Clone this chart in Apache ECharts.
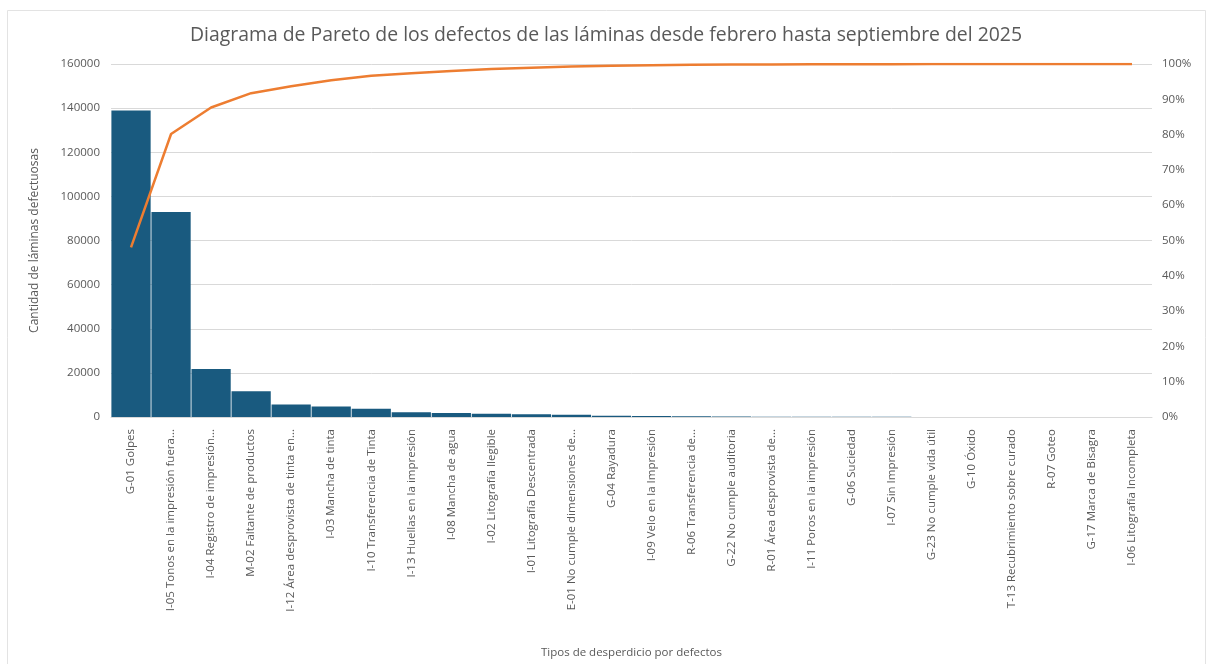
<!DOCTYPE html>
<html>
<head>
<meta charset="utf-8">
<script src="https://cdn.jsdelivr.net/npm/echarts@6/dist/echarts.min.js"></script>
<style>
  html, body { margin: 0; padding: 0; background: #ffffff; }
  #chart { width: 1212px; height: 664px; }
</style>
</head>
<body>
<div id="chart"></div>
<script>
// Defect categories (sorted by count, descending)
const categories = [
  'G-01 Golpes',
  'I-05 Tonos en la impresión fuera...',
  'I-04 Registro de impresión...',
  'M-02 Faltante de productos',
  'I-12 Área desprovista de tinta en...',
  'I-03 Mancha de tinta',
  'I-10 Transferencia de Tinta',
  'I-13 Huellas en la impresión',
  'I-08 Mancha de agua',
  'I-02 Litografía Ilegible',
  'I-01 Litografía Descentrada',
  'E-01 No cumple dimensiones de...',
  'G-04 Rayadura',
  'I-09 Velo en la Impresión',
  'R-06 Transferencia de...',
  'G-22 No cumple auditoria',
  'R-01 Área desprovista de...',
  'I-11 Poros en la impresión',
  'G-06 Suciedad',
  'I-07 Sin Impresión',
  'G-23 No cumple vida útil',
  'G-10 Óxido',
  'T-13 Recubrimiento sobre curado',
  'R-07 Goteo',
  'G-17 Marca de Bisagra',
  'I-06 Litografía Incompleta'
];

// Defective sheets per category
const counts = [
  138900, 92900, 21700, 11700, 5700, 4800, 3700, 2200, 1800, 1500,
  1200, 1000, 600, 400, 300, 200, 150, 100, 80, 60,
  40, 30, 20, 10, 5, 2
];

// Left and right axis ticks
const countTicks = [0, 20000, 40000, 60000, 80000, 100000, 120000, 140000, 160000];
const percentTicks = [0, 10, 20, 30, 40, 50, 60, 70, 80, 90, 100];

// Cumulative share of the total, in percent
const total = counts.reduce((a, b) => a + b, 0);
let running = 0;
const cumulative = counts.map(v => { running += v; return +(running / total * 100).toFixed(2); });

const textColor = '#595959';
const gridColor = '#d9d9d9';
const font = '"Open Sans", "Noto Sans", sans-serif';

const chart = echarts.init(document.getElementById('chart'), null, { renderer: 'canvas' });
chart.setOption({
  backgroundColor: '#ffffff',
  animation: false,
  textStyle: { fontFamily: font },
  graphic: [{
    type: 'rect',
    shape: { x: 7.5, y: 10.5, width: 1198, height: 670 },
    style: { fill: 'none', stroke: '#e3e3e3', lineWidth: 1 },
    silent: true
  }],
  title: {
    text: 'Diagrama de Pareto de los defectos de las láminas desde febrero hasta septiembre del 2025',
    left: 'center',
    top: 21,
    textStyle: { fontFamily: font, fontSize: 19.4, fontWeight: 'normal', color: textColor }
  },
  grid: { left: 111, right: 60, top: 64, bottom: 242, containLabel: false },
  xAxis: {
    type: 'category',
    data: categories,
    name: 'Tipos de desperdicio por defectos',
    nameLocation: 'middle',
    nameGap: 230,
    nameTextStyle: { fontFamily: font, fontSize: 11.5, color: textColor },
    axisLine: { lineStyle: { color: gridColor } },
    axisTick: { show: false },
    axisLabel: {
      rotate: 90, interval: 0, margin: 12,
      fontFamily: font, fontSize: 11.5, color: textColor
    }
  },
  yAxis: [{
    type: 'value',
    min: countTicks[0],
    max: countTicks[countTicks.length - 1],
    interval: countTicks[1] - countTicks[0],
    name: 'Cantidad de láminas defectuosas',
    nameLocation: 'middle',
    nameGap: 70,
    nameTextStyle: { fontFamily: font, fontSize: 12, color: textColor },
    axisLine: { show: false },
    axisTick: { show: false },
    axisLabel: { fontFamily: font, fontSize: 11.5, color: textColor, margin: 11, formatter: v => String(v) },
    splitLine: { lineStyle: { color: gridColor, width: 1 } }
  }, {
    type: 'value',
    min: percentTicks[0],
    max: percentTicks[percentTicks.length - 1],
    interval: percentTicks[1] - percentTicks[0],
    position: 'right',
    axisLine: { show: false },
    axisTick: { show: false },
    axisLabel: { fontFamily: font, fontSize: 11.5, color: textColor, margin: 10, formatter: '{value}%' },
    splitLine: { show: false }
  }],
  series: [{
    type: 'bar',
    data: counts,
    yAxisIndex: 0,
    barCategoryGap: '2%',
    itemStyle: { color: '#195a7f' }
  }, {
    type: 'line',
    data: cumulative,
    yAxisIndex: 1,
    symbol: 'none',
    lineStyle: { color: '#ed7d31', width: 2.5 },
    itemStyle: { color: '#ed7d31' }
  }]
});
</script>
</body>
</html>
